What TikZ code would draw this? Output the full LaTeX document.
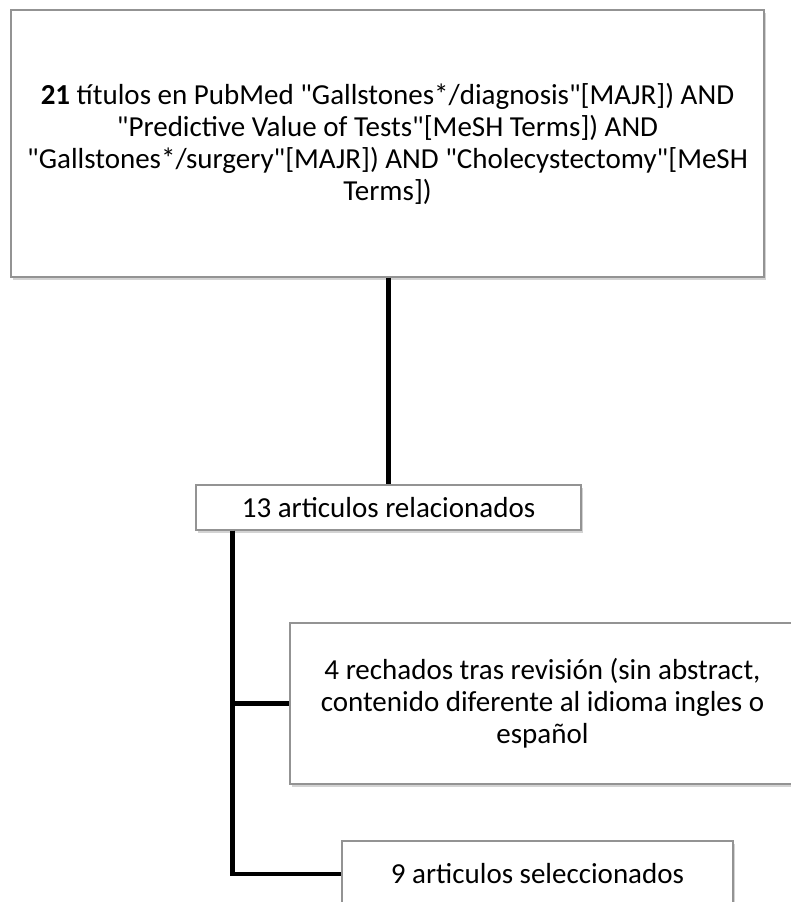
\documentclass[tikz,border=0pt]{standalone}
\usepackage{fontspec}
\setmainfont{Carlito}[Ligatures=TeXOff]
\usetikzlibrary{shadows}

\begin{document}
\begin{tikzpicture}[x=1pt, y=-1pt,
    box/.style={draw=gray!85, line width=1.2pt, fill=white, align=center,
        inner sep=0pt, font=\fontsize{29}{32}\selectfont,
        drop shadow={shadow xshift=1.5pt, shadow yshift=-3pt, opacity=0.35, fill=gray}},
    link/.style={line width=4.5pt, black}]

    \clip (0,0) rectangle (791,902);
    \useasboundingbox (0,0) rectangle (791,902);

    % search results
    \node[box, minimum width=753pt, minimum height=267pt] (busqueda) at (387.5,143.5)
        {\textbf{21} títulos en PubMed "Gallstones*/diagnosis"[MAJR]) AND\\
         "Predictive Value of Tests"[MeSH Terms]) AND\\
         "Gallstones*/surgery"[MAJR]) AND "Cholecystectomy"[MeSH\\
         Terms])};

    \node[box, minimum width=385pt, minimum height=45pt] (relacionados) at (388.5,507.5)
        {13 articulos relacionados};

    \node[box, minimum width=505pt, minimum height=161pt] (rechazados) at (542.5,703.5)
        {4 rechados tras revisión (sin abstract,\\
         contenido diferente al idioma ingles o\\
         español};

    \node[box, minimum width=391pt, minimum height=66pt] (seleccionados) at (537.5,874)
        {9 articulos seleccionados};

    % connectors
    \coordinate (tronco) at ([xshift=37pt]relacionados.south west);
    \draw[link] (busqueda.south -| relacionados.north) -- (relacionados.north);
    \draw[link] (tronco) |- (rechazados.west);
    \draw[link] (tronco) |- (seleccionados.west);

\end{tikzpicture}
\end{document}
